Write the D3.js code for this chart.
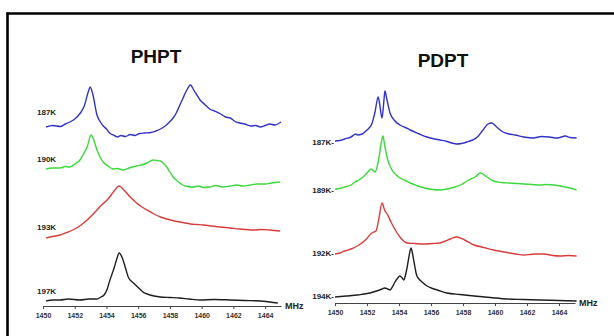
<!DOCTYPE html>
<html><head><meta charset="utf-8">
<script src="https://cdn.jsdelivr.net/npm/d3@7"></script>
<style>body{margin:0;background:#fff}svg{display:block}</style>
</head><body>
<script>
// ---------- DATA ----------
const panelTitles = ["PHPT", "PDPT"];
const tickValues = [1450, 1452, 1454, 1456, 1458, 1460, 1462, 1464];
const minorTicks = [1450,1451,1452,1453,1454,1455,1456,1457,1458,1459,1460,1461,1462,1463,1464,1465];
const unitLabel = "MHz";
const phptLabels = ["187K", "190K", "193K", "197K"];
const pdptLabels = ["187K-", "189K-", "192K-", "194K-"];
// [frequency MHz, intensity a.u. (stacked)]
const phpt187 = [[1450.2,71.2],[1450.6,71.8],[1451.1,71.4],[1451.4,72.4],[1451.7,73.2],[1452.0,74.4],[1452.2,75.6],[1452.4,77.2],[1452.6,79.6],[1452.85,85.2],[1452.97,87.2],[1453.15,84],[1453.4,76],[1453.6,73.4],[1453.8,71.6],[1454.0,70.4],[1454.2,68.8],[1454.5,67.8],[1454.7,67.2],[1454.9,67.8],[1455.2,67.4],[1455.5,68.2],[1455.8,67.8],[1456.1,68.6],[1456.4,68.8],[1456.8,69.0],[1457.1,69.6],[1457.4,70.4],[1457.7,71.6],[1458.0,73.4],[1458.2,74.8],[1458.4,76.8],[1458.6,79.6],[1458.8,82.4],[1459.0,85.2],[1459.3,88],[1459.5,86],[1459.7,84],[1459.9,82],[1460.2,80.2],[1460.5,78.4],[1460.8,77.6],[1461.2,76.4],[1461.5,75.2],[1461.8,74.8],[1462.1,73.4],[1462.4,72.8],[1462.7,72.4],[1463.1,71.6],[1463.4,71.8],[1463.7,71.2],[1464.0,71.8],[1464.3,72.4],[1464.6,72.0],[1465.0,73.2]];
const phpt190 = [[1450.2,54.4],[1450.6,54.8],[1451.07,54.8],[1451.4,55.4],[1451.7,55.2],[1452.0,56.4],[1452.33,58],[1452.55,60.4],[1452.78,63.2],[1453.03,68],[1453.2,66],[1453.4,62],[1453.6,59.2],[1453.79,57.2],[1454.1,55.6],[1454.4,54.4],[1454.7,54.6],[1455.05,54],[1455.5,55.0],[1455.9,55.6],[1456.2,56.0],[1456.56,56.8],[1456.94,58],[1457.2,57.8],[1457.4,57.6],[1457.6,56.6],[1457.8,55.2],[1458.0,53.2],[1458.2,51.2],[1458.5,49.4],[1458.8,48],[1459.1,47.4],[1459.46,47.2],[1459.8,47.6],[1460.1,47.0],[1460.5,47.2],[1460.9,47.8],[1461.3,47.2],[1461.8,47.6],[1462.2,48.0],[1462.6,47.6],[1463.06,48],[1463.5,48.4],[1464.0,48.4],[1464.4,48.8],[1464.95,49.2]];
const phpt193 = [[1450.2,26.8],[1450.6,27.4],[1451.07,28],[1451.5,29.0],[1452.0,30.4],[1452.4,32.0],[1452.78,34],[1453.1,36],[1453.4,38],[1453.7,40],[1454.04,42],[1454.3,44],[1454.48,45.6],[1454.8,47.6],[1455.1,46],[1455.3,44.6],[1455.5,43.2],[1455.9,40.8],[1456.2,39.4],[1456.56,38],[1457.0,36.4],[1457.4,35.2],[1457.8,34.4],[1458.3,33.6],[1458.8,33.0],[1459.3,32.4],[1459.7,32.2],[1460.1,32],[1460.6,31.6],[1461.2,31.2],[1461.8,30.8],[1462.4,30.4],[1462.8,30.2],[1463.25,30],[1463.8,30.2],[1464.3,30],[1464.95,29.6]];
const phpt197 = [[1450.2,1.6],[1450.6,2.0],[1451.07,2],[1451.6,2.4],[1452.33,2],[1452.9,2.4],[1453.4,2.4],[1453.65,3.2],[1453.85,4],[1454.05,6.4],[1454.2,9.6],[1454.35,12.4],[1454.48,14.8],[1454.65,18.4],[1454.8,20.8],[1455.0,18.8],[1455.2,14.8],[1455.4,10.8],[1455.55,9.6],[1455.7,8.8],[1455.9,7.6],[1456.1,6.4],[1456.3,5.2],[1456.56,4.4],[1457.0,3.6],[1457.4,3.2],[1458.0,3.0],[1458.6,2.8],[1459.2,2.4],[1459.9,2],[1460.8,2.2],[1461.8,2],[1462.7,1.8],[1463.7,1.6],[1464.3,1.2],[1464.8,0.8]];
const pdpt187 = [[1450.0,64.8],[1450.3,65.0],[1450.6,65.6],[1451.0,66.4],[1451.3,67.6],[1451.4,67.2],[1451.7,67.6],[1452.0,69.2],[1452.3,71.6],[1452.5,76.4],[1452.7,82.4],[1452.8,79.2],[1452.94,74],[1453.06,81.2],[1453.12,84.8],[1453.25,81.2],[1453.44,76],[1453.75,72.8],[1454.06,71.2],[1454.4,70.2],[1454.7,69.2],[1455.2,67.8],[1455.75,66.4],[1456.1,65.8],[1456.56,65.2],[1457.0,64.6],[1457.3,64.0],[1457.6,63.6],[1457.9,63.8],[1458.25,64.4],[1458.6,65.2],[1458.9,66.4],[1459.25,69.2],[1459.56,71.6],[1459.8,72],[1460.1,70.4],[1460.5,68.4],[1460.9,67.6],[1461.25,67.2],[1461.8,66.4],[1462.4,66],[1462.9,66.6],[1463.4,66.4],[1463.9,66.0],[1464.4,66.8],[1464.7,66.2],[1465.1,66]];
const pdpt189 = [[1450.0,45.6],[1450.3,45.8],[1450.6,46.4],[1451.0,47.2],[1451.25,48.4],[1451.5,49.2],[1451.75,50.4],[1452.06,52.4],[1452.25,53.6],[1452.5,52.4],[1452.7,56.4],[1452.9,64.4],[1453.0,66.8],[1453.1,63.2],[1453.3,57.2],[1453.56,53.2],[1453.8,51.4],[1454.06,50],[1454.4,49.0],[1454.7,48],[1455.1,47.0],[1455.6,46],[1456.1,45.4],[1456.56,45.2],[1457.0,45.6],[1457.5,46.4],[1457.9,47.4],[1458.25,48.8],[1458.75,50.4],[1459.1,52],[1459.5,50.4],[1459.9,48.8],[1460.4,48.2],[1460.9,48],[1461.4,47.8],[1461.8,47.6],[1462.3,47.4],[1462.8,47.2],[1463.2,47.4],[1463.7,47.2],[1464.1,46.8],[1464.4,46.4],[1464.8,45.8],[1465.1,45.2]];
const pdpt192 = [[1450.0,19.6],[1450.3,20.0],[1450.6,20.8],[1451.0,21.6],[1451.4,22.8],[1451.9,25.2],[1452.3,28],[1452.56,28.8],[1452.75,34],[1452.94,40],[1453.1,37.2],[1453.3,35.2],[1453.5,32.4],[1453.7,30],[1454.06,26.4],[1454.5,24],[1455.0,23.8],[1455.56,23.6],[1456.1,23.8],[1456.56,24],[1456.9,24.8],[1457.2,25.6],[1457.6,26.4],[1458.1,25.2],[1458.7,23.2],[1459.3,22.2],[1459.9,21.2],[1460.4,20.6],[1460.9,20],[1461.3,19.6],[1461.8,19.2],[1462.2,19.4],[1462.5,19.6],[1463.06,19.6],[1463.6,19.0],[1464.06,18.8],[1464.6,19.0],[1465.1,18.8]];
const pdpt194 = [[1450.0,2.4],[1450.7,2.8],[1451.4,3.2],[1451.8,3.6],[1452.2,4],[1452.6,4.8],[1452.94,5.6],[1453.1,6],[1453.3,5.6],[1453.44,5.2],[1453.6,6.6],[1453.75,8.4],[1453.9,9.8],[1454.06,10.8],[1454.2,10.0],[1454.3,9.2],[1454.4,11.0],[1454.5,14],[1454.62,18.4],[1454.75,22],[1454.85,19.6],[1454.94,16.4],[1455.1,11.2],[1455.25,9.6],[1455.44,8.4],[1455.75,6.8],[1456.1,5.8],[1456.4,5.2],[1457.0,4],[1457.8,3.4],[1458.7,2.8],[1459.7,2.2],[1460.75,1.6],[1461.8,1.4],[1462.8,1.2],[1464.0,1.0],[1465.1,0.8]];

const phptSeries = [phpt187, phpt190, phpt193, phpt197];
const pdptSeries = [pdpt187, pdpt189, pdpt192, pdpt194];
const colors = ["#3232c4", "#3cd83c", "#d83c3c", "#1e1e1e"];

// ---------- DRAW ----------
const W = 614, H = 336;
const svg = d3.select("body").append("svg").attr("width", W).attr("height", H);
svg.append("rect").attr("width", W).attr("height", H).attr("fill", "#fff");
svg.append("line").attr("x1", 6.5).attr("x2", W).attr("y1", 13.5).attr("y2", 13.5).attr("stroke", "#000").attr("stroke-width", 2.6);
svg.append("line").attr("x1", 7.5).attr("x2", 7.5).attr("y1", 12.5).attr("y2", H).attr("stroke", "#000").attr("stroke-width", 2.6);

const font = "'Liberation Sans', Arial, sans-serif";

const panels = [
  {title: panelTitles[0], titleX: 156, titleY: 63, series: phptSeries, labels: phptLabels,
   x0: 43, x1: 281, yBase: 305, axisY: 306, labelAnchor: "start", labelX: 37, labelYs: [115, 162, 230, 294], unitX: 285},
  {title: panelTitles[1], titleX: 443, titleY: 67, series: pdptSeries, labels: pdptLabels,
   x0: 335, x1: 575, yBase: 303, axisY: 303, labelAnchor: "end", labelX: 334, labelYs: [145, 193, 256, 299], unitX: 579}
];

panels.forEach(p => {
  const g = svg.append("g");
  const x = d3.scaleLinear().domain([1450, 1465]).range([p.x0, p.x1]);
  const y = d3.scaleLinear().domain([0, 100]).range([p.yBase, p.yBase - 250]);

  g.append("text").attr("x", p.titleX).attr("y", p.titleY).attr("text-anchor", "middle")
    .attr("font-family", font).attr("font-weight", "bold").attr("font-size", 19).attr("fill", "#111")
    .text(p.title);

  const line = d3.line().x(d => x(d[0])).y(d => y(d[1])).curve(d3.curveMonotoneX);
  p.series.forEach((s, i) => {
    g.append("path").datum(s).attr("d", line).attr("fill", "none")
      .attr("stroke", colors[i]).attr("stroke-width", 1.4).attr("stroke-linejoin", "round");
    g.append("text").attr("x", p.labelX).attr("y", p.labelYs[i]).attr("text-anchor", p.labelAnchor)
      .attr("font-family", font).attr("font-weight", "bold").attr("font-size", 8).attr("fill", "#222")
      .text(p.labels[i]);
  });

  const ax = g.append("g").attr("transform", `translate(0,${p.axisY})`);
  ax.call(d3.axisBottom(x).tickValues(minorTicks).tickSize(2).tickFormat(""));
  ax.call(d3.axisBottom(x).tickValues(tickValues).tickSizeInner(3).tickSizeOuter(0).tickFormat(d3.format("d")));
  ax.selectAll("path").attr("stroke", "#444").attr("stroke-width", 1.2);
  ax.selectAll("line").attr("stroke", "#444");
  ax.selectAll("text").attr("font-family", font).attr("font-weight", "bold").attr("font-size", 7)
    .attr("fill", "#333").attr("dy", "0.9em");

  g.append("text").attr("x", p.unitX).attr("y", p.axisY + 3).attr("font-family", font)
    .attr("font-weight", "bold").attr("font-size", 9).attr("fill", "#222").text(unitLabel);
});
</script>
</body></html>
